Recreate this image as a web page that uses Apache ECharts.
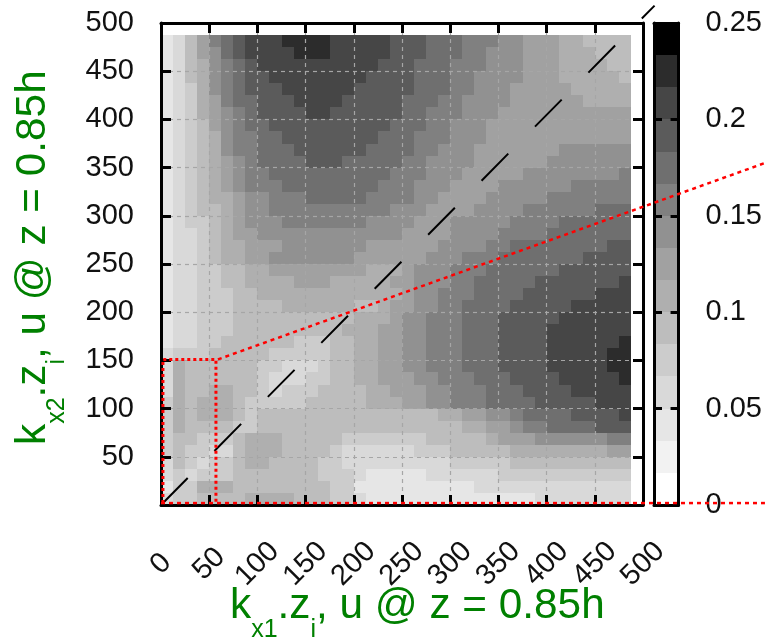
<!DOCTYPE html>
<html>
<head>
<meta charset="utf-8">
<style>
  html, body { margin: 0; padding: 0; background: #fff; }
  #chart { width: 765px; height: 641px; }
</style>
<script src="https://cdn.jsdelivr.net/npm/echarts@6/dist/echarts.min.js"></script>
</head>
<body>
<div id="chart"></div>
<script>
// colour band read at each cell, rows run from the top of the map (k2 high) to the bottom
const heatRows = [
  [2,3,5,7,9,10,11,12,12,12,13,13,13,13,12,12,12,12,12,11,11,11,10,10,10,9,9,9,8,8,7,7,7,6,6,5,5,5,5],
  [2,3,5,7,8,10,11,12,12,12,12,13,13,13,12,12,12,12,12,11,11,11,10,10,10,9,9,8,8,8,7,7,7,6,6,6,5,5,5],
  [2,3,5,6,8,9,10,11,12,12,12,12,12,12,12,12,12,12,11,11,11,10,10,10,9,9,9,8,8,8,7,7,7,6,6,6,6,5,5],
  [2,3,5,6,8,9,10,11,11,12,12,12,12,12,12,12,12,11,11,11,11,10,10,10,9,9,8,8,8,8,7,7,7,6,6,6,6,6,5],
  [2,3,4,6,8,9,10,11,11,11,12,12,12,12,12,12,11,11,11,11,11,10,10,10,9,9,8,8,8,7,7,7,7,7,6,6,6,6,6],
  [2,3,4,6,7,9,10,10,11,11,11,12,12,12,12,11,11,11,11,11,10,10,10,9,9,8,8,8,8,7,7,7,7,7,7,6,6,6,6],
  [2,3,4,6,7,8,9,10,11,11,11,11,12,12,11,11,11,11,11,11,10,10,9,9,9,8,8,8,7,7,7,7,7,7,7,7,7,7,7],
  [2,3,4,5,7,8,9,10,10,11,11,11,11,11,11,11,11,11,11,10,10,10,9,9,8,8,8,7,7,7,7,7,7,7,7,7,7,7,7],
  [2,3,4,5,6,8,9,9,10,10,11,11,11,11,11,11,11,11,10,10,10,9,9,9,8,8,8,7,7,7,7,7,7,7,7,7,7,7,7],
  [2,3,4,5,6,8,9,9,10,10,10,11,11,11,11,11,11,10,10,10,10,9,9,8,8,8,7,7,7,7,7,7,7,8,8,8,8,8,8],
  [2,3,4,5,6,7,8,9,10,10,10,10,11,11,11,10,10,10,10,10,9,9,8,8,8,8,7,7,7,7,7,7,8,8,8,8,8,8,8],
  [2,3,4,5,6,7,8,9,9,10,10,10,10,10,10,10,10,10,10,9,9,9,8,8,8,7,7,7,7,7,8,8,8,8,8,8,8,8,9],
  [2,3,4,5,6,7,8,9,9,9,10,10,10,10,10,10,10,10,9,9,9,8,8,8,7,7,7,7,8,8,8,8,8,8,9,9,9,9,9],
  [2,3,4,5,6,6,7,8,8,9,9,9,10,10,10,10,10,9,9,9,9,8,8,7,7,7,7,8,8,8,8,8,9,9,9,9,9,9,9],
  [2,3,4,5,5,6,7,8,8,9,9,9,9,9,9,9,9,9,9,8,8,8,7,7,7,7,8,8,8,8,9,9,9,9,9,9,10,10,10],
  [2,3,4,4,5,6,7,8,8,8,9,9,9,9,9,9,9,8,8,8,8,7,7,7,8,8,8,8,8,9,9,9,9,10,10,10,10,10,10],
  [2,3,3,4,5,6,7,7,8,8,8,8,8,8,8,8,8,8,8,8,7,7,7,7,8,8,8,8,9,9,9,9,10,10,10,10,10,10,10],
  [2,3,3,4,5,6,6,7,7,7,8,8,8,8,8,8,8,7,7,7,7,7,7,8,8,8,8,9,9,10,10,10,10,10,10,10,10,11,11],
  [2,3,3,4,5,6,6,7,7,8,8,8,8,8,8,8,7,7,7,7,7,7,8,8,8,9,9,9,10,10,10,10,10,10,10,11,11,11,11],
  [2,3,3,4,4,5,5,6,6,7,7,7,7,7,7,7,7,6,6,6,7,8,8,8,9,9,9,10,10,10,10,10,10,11,11,11,11,11,11],
  [2,3,3,4,4,5,5,6,6,6,6,7,7,7,6,6,6,6,6,7,7,8,8,8,9,9,10,10,10,10,10,11,11,11,11,11,11,11,12],
  [2,3,3,4,4,4,5,5,6,6,6,6,6,6,6,6,6,6,6,6,7,8,8,9,9,9,10,10,10,10,11,11,11,11,11,11,12,12,12],
  [2,3,3,4,4,4,5,5,5,5,6,6,6,6,6,6,5,5,6,7,7,8,8,9,9,10,10,10,10,11,11,11,11,11,12,12,12,12,12],
  [2,3,3,4,4,4,5,5,5,5,5,5,5,5,5,5,6,6,6,7,8,8,9,9,9,10,10,10,11,11,11,11,11,12,12,12,12,12,12],
  [2,3,3,4,4,4,5,5,5,5,5,5,5,5,5,6,6,6,7,7,8,8,9,9,9,10,10,10,11,11,11,11,12,12,12,12,12,12,12],
  [2,3,3,4,4,5,5,5,5,5,5,4,4,4,5,5,6,6,7,7,8,8,9,9,9,10,10,10,11,11,11,11,12,12,12,12,12,12,13],
  [3,4,4,4,5,5,5,5,5,4,4,4,4,4,5,5,6,6,7,7,8,8,9,9,9,10,10,10,11,11,11,11,12,12,12,12,12,13,13],
  [3,6,5,5,5,5,5,5,4,4,3,3,3,4,5,5,6,6,7,7,8,8,9,9,9,10,10,10,11,11,11,11,12,12,12,12,12,13,13],
  [3,6,5,5,5,5,5,5,4,3,3,3,4,4,5,5,6,6,7,7,7,8,8,9,9,9,10,10,10,11,11,11,11,12,12,12,12,12,13],
  [3,6,5,5,6,6,5,5,4,3,4,4,4,5,5,5,5,6,6,7,7,7,8,8,9,9,9,10,10,10,11,11,11,11,12,12,12,12,12],
  [4,6,5,6,6,6,5,4,4,4,4,4,5,5,5,5,5,6,6,6,7,7,8,8,9,9,9,10,10,10,10,11,11,11,11,11,12,12,12],
  [4,6,5,6,6,6,5,4,5,5,5,5,5,5,5,5,5,5,5,5,5,5,5,6,6,7,7,8,8,9,10,10,10,10,11,11,11,11,12],
  [4,6,5,5,5,5,4,4,5,5,5,5,5,5,5,5,5,5,5,5,5,5,5,5,5,6,6,7,7,8,9,9,10,10,10,10,11,11,11],
  [4,5,5,4,4,4,5,6,6,6,5,5,5,5,5,4,4,4,4,4,4,4,5,5,5,5,5,6,7,7,7,8,8,8,8,8,8,9,9],
  [4,5,4,4,3,3,5,6,6,6,5,5,5,5,4,3,3,3,3,3,3,4,4,4,5,5,5,5,5,6,6,6,6,6,6,6,6,7,7],
  [3,5,4,3,4,4,5,6,6,5,5,5,5,4,4,3,3,3,3,3,3,3,3,3,4,4,4,4,4,5,5,5,5,5,5,5,5,5,5],
  [3,4,3,4,4,4,5,5,5,5,5,5,5,4,4,4,3,2,2,2,2,2,3,3,3,3,3,3,4,4,4,4,4,4,4,4,4,4,4],
  [2,4,4,6,6,6,5,5,5,5,5,5,5,5,4,4,2,2,2,2,2,2,2,2,2,2,3,3,3,3,3,3,3,3,3,3,3,3,3],
  [3,4,4,5,5,5,5,6,6,6,6,5,5,5,4,4,3,2,2,2,2,2,2,2,2,2,2,2,2,2,2,3,3,3,3,3,3,3,3]
]
const cellStep = 12.5

// colourbar bands, white at 0 to black at 0.25
const bandColors = ['#ffffff', '#f2f2f2', '#e6e6e6', '#d9d9d9', '#cccccc', '#bdbdbd', '#afafaf', '#a1a1a1',
  '#919191', '#808080', '#6f6f6f', '#5b5b5b', '#464646', '#2c2c2c', '#000000']
const bandEdges = [0, 0.0167, 0.0333, 0.05, 0.0667, 0.0833, 0.1, 0.1167, 0.1333, 0.15, 0.1667, 0.1833, 0.2, 0.2167, 0.2333, 0.25]

const xTicks = [0, 50, 100, 150, 200, 250, 300, 350, 400, 450, 500]
const yTicks = [0, 50, 100, 150, 200, 250, 300, 350, 400, 450, 500]
const yLabelTicks = [50, 100, 150, 200, 250, 300, 350, 400, 450, 500]
const zTicks = [0, 0.05, 0.1, 0.15, 0.2, 0.25]

// overlay lines, in axis units. they run past the plot frame, so they sit on a page sized grid
const diagonalLine = [[0, 0], [512, 518]]
const boxLine = [[2, 2], [2, 151], [57, 151], [57, 2]]
const slopeLine = [[59, 151], [626.5, 354.8]]
const floorLine = [[0, 2], [626.5, 2]]
const pageXRange = [-167.01, 626.56]
const pageYRange = [-141.08, 523.86]

const font = 'Liberation Sans'
const green = '#008000'

const chart = echarts.init(document.getElementById('chart'))

const heatCells = []
heatRows.forEach((row, r) => {
  row.forEach((band, c) => {
    heatCells.push([c * cellStep, (heatRows.length - 1 - r) * cellStep, band])
  })
})
const barCells = bandColors.map((c, i) => [i, bandEdges[i], bandEdges[i + 1]])

const rectOf = (p0, p1, fill) => {
  const x0 = Math.round(p0[0])
  const x1 = Math.round(p1[0])
  const y0 = Math.round(p0[1])
  const y1 = Math.round(p1[1])
  return {
    type: 'rect',
    shape: { x: x0, y: y1, width: x1 - x0, height: y0 - y1 },
    style: { fill: fill }
  }
}

const frameAxis = (extra) => Object.assign({
  type: 'value',
  z: 3,
  axisLine: { show: true, onZero: false, lineStyle: { color: '#000', width: 3 } },
  axisTick: { show: true, inside: true, length: 10, lineStyle: { color: '#000', width: 3 } },
  axisLabel: { show: false },
  splitLine: { show: false }
}, extra)

const dashGrid = { show: true, lineStyle: { color: '#a6a6a6', width: 1.2, type: [4, 4] } }

const overlay = (data, color, width, dash) => ({
  type: 'line',
  data: data,
  xAxisIndex: 4,
  yAxisIndex: 4,
  z: 6,
  clip: false,
  silent: true,
  showSymbol: false,
  symbol: 'none',
  lineStyle: { color: color, width: width, type: dash, cap: 'butt' }
})

const titleRich = {
  b: { fontFamily: font, fontSize: 42.3, lineHeight: 44, fill: green, verticalAlign: 'top' },
  s: { fontFamily: font, fontSize: 25, lineHeight: 58, fill: green, verticalAlign: 'bottom' }
}

const option = {
  animation: false,
  backgroundColor: '#fff',
  grid: [
    { left: 161, top: 23, width: 482, height: 482 },
    { left: 654, top: 23, width: 25, height: 482 },
    { left: 0, top: 0, width: 765, height: 641 }
  ],
  xAxis: [
    frameAxis({
      gridIndex: 0, min: 0, max: 500, position: 'bottom',
      axisTick: { show: true, inside: true, length: 10, customValues: xTicks, lineStyle: { color: '#000', width: 3 } },
      axisLabel: {
        show: true, customValues: xTicks, rotate: 45, margin: 59, align: 'center', verticalAlign: 'middle',
        color: '#111', fontFamily: font, fontSize: 29
      },
      splitLine: dashGrid
    }),
    frameAxis({ gridIndex: 0, min: 0, max: 500, position: 'top', axisTick: { show: true, inside: true, length: 10, customValues: xTicks, lineStyle: { color: '#000', width: 3 } } }),
    frameAxis({ gridIndex: 1, min: 0, max: 1, position: 'bottom', axisTick: { show: false } }),
    frameAxis({ gridIndex: 1, min: 0, max: 1, position: 'top', axisTick: { show: false } }),
    { type: 'value', gridIndex: 2, show: false, min: pageXRange[0], max: pageXRange[1] }
  ],
  yAxis: [
    frameAxis({
      gridIndex: 0, min: 0, max: 500, position: 'left',
      axisTick: { show: true, inside: true, length: 10, customValues: yTicks, lineStyle: { color: '#000', width: 3 } },
      axisLabel: { show: true, customValues: yLabelTicks, margin: 27, color: '#111', fontFamily: font, fontSize: 29 },
      splitLine: dashGrid
    }),
    frameAxis({ gridIndex: 0, min: 0, max: 500, position: 'right', axisTick: { show: true, inside: true, length: 10, customValues: yTicks, lineStyle: { color: '#000', width: 3 } } }),
    frameAxis({ gridIndex: 1, min: 0, max: 0.25, position: 'left', axisTick: { show: true, inside: true, length: 8, customValues: zTicks, lineStyle: { color: '#000', width: 3 } } }),
    frameAxis({
      gridIndex: 1, min: 0, max: 0.25, position: 'right',
      axisTick: { show: true, inside: true, length: 8, customValues: zTicks, lineStyle: { color: '#000', width: 3 } },
      axisLabel: { show: true, customValues: zTicks, margin: 27, color: '#111', fontFamily: font, fontSize: 29 }
    }),
    { type: 'value', gridIndex: 2, show: false, min: pageYRange[0], max: pageYRange[1] }
  ],
  series: [
    {
      type: 'custom',
      xAxisIndex: 0,
      yAxisIndex: 0,
      z: 1,
      silent: true,
      data: heatCells,
      encode: { x: 0, y: 1 },
      renderItem: (params, api) => {
        const x = api.value(0)
        const y = api.value(1)
        return rectOf(api.coord([x, y]), api.coord([x + cellStep, y + cellStep]), bandColors[api.value(2)])
      }
    },
    {
      type: 'custom',
      xAxisIndex: 2,
      yAxisIndex: 2,
      z: 1,
      silent: true,
      data: barCells,
      encode: { y: [1, 2] },
      renderItem: (params, api) => {
        return rectOf(api.coord([0, api.value(1)]), api.coord([1, api.value(2)]), bandColors[api.value(0)])
      }
    },
    overlay(diagonalLine, '#000', 2, [38, 38]),
    overlay(boxLine, '#ff0000', 3, [3, 3]),
    overlay(slopeLine, '#ff0000', 2.5, [4, 4]),
    overlay(floorLine, '#ff0000', 2.5, [4, 4])
  ],
  graphic: [
    {
      type: 'text',
      x: 230,
      y: 585,
      style: { text: '{b|k}{s|x1}{b|.z}{s|i}{b|, u @ z = 0.85h}', rich: titleRich }
    },
    {
      type: 'text',
      x: 12,
      y: 445,
      rotation: Math.PI / 2,
      style: { text: '{b|k}{s|x2}{b|.z}{s|i}{b|, u @ z = 0.85h}', rich: titleRich }
    }
  ]
}

chart.setOption(option)
</script>
</body>
</html>
